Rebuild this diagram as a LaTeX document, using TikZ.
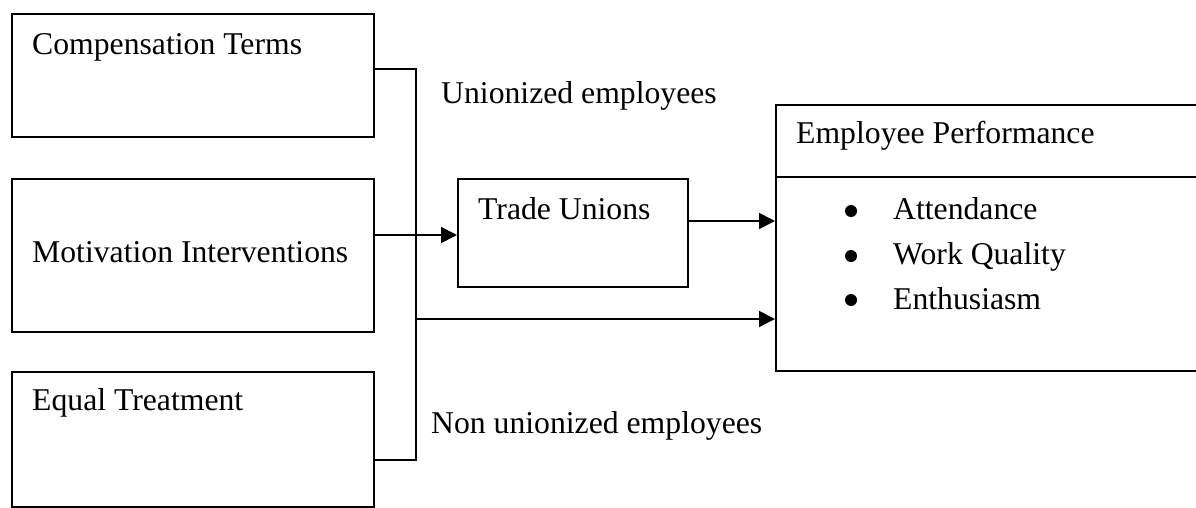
\documentclass[tikz,border=0pt]{standalone}
\usepackage{fontspec}
\setmainfont{Liberation Serif}
\usetikzlibrary{arrows.meta}
\begin{document}
\begin{tikzpicture}[x=1pt,y=-1pt,
  box/.style={draw=black, line width=1.7pt, rectangle, inner sep=0pt, anchor=north west},
  txt/.style={anchor=base west, inner sep=0pt, font=\fontsize{31.7}{38}\selectfont},
  conn/.style={line width=1.7pt},
  arr/.style={line width=1.7pt, -{Triangle[length=16pt,width=16pt]}},
  dot/.style={circle, fill=black, inner sep=0pt, minimum size=12pt}]
\useasboundingbox (0,0) rectangle (1196,507);
% left boxes
\node[box, minimum width=362pt, minimum height=123pt] (comp) at (11,13) {};
\node[box, minimum width=362pt, minimum height=153pt] (mot) at (11,178) {};
\node[box, minimum width=362pt, minimum height=135pt] (eq) at (11,371) {};
\node[txt] (compt) at (32,54) {Compensation Terms};
\node[txt] (mott) at (32,262) {Motivation Interventions};
\node[txt] (eqt) at (32,410) {Equal Treatment};
% trade unions
\node[box, minimum width=230pt, minimum height=108pt] (tu) at (457,178) {};
\node[txt] (tut) at (478,219) {Trade Unions};
% employee performance
\node[box, minimum width=440pt, minimum height=266pt] (perf) at (775,104) {};
\coordinate (divl) at (775,177);
\coordinate (divr) at (1215,177);
\draw[conn] (divl) -- (divr);
\node[txt] (perft) at (796,143) {Employee Performance};
\node[dot] (b1) at (851,211) {};
\node[dot] (b2) at (851,256) {};
\node[dot] (b3) at (851,300) {};
\node[txt] (att) at (893,219) {Attendance};
\node[txt] (wq) at (893,264) {Work Quality};
\node[txt] (ent) at (893,309) {Enthusiasm};
% labels
\node[txt] (un) at (441,103) {Unionized employees};
\node[txt] (nun) at (431,433) {Non unionized employees};
% connectors
\coordinate (j1) at (416,69);
\coordinate (j3) at (416,460);
\coordinate (a1) at (420,235);
\coordinate (a2) at (700,221);
\coordinate (a3) at (420,319);
\draw[conn] (comp.east |- j1) -- (j1) -- (j3) -- (eq.east |- j3);
\draw[arr] (mot.east |- a1) -- (tu.west |- a1);
\draw[arr] (tu.east |- a2) -- (perf.west |- a2);
\draw[arr] (j1 |- a3) -- (perf.west |- a3);
\end{tikzpicture}
\end{document}
